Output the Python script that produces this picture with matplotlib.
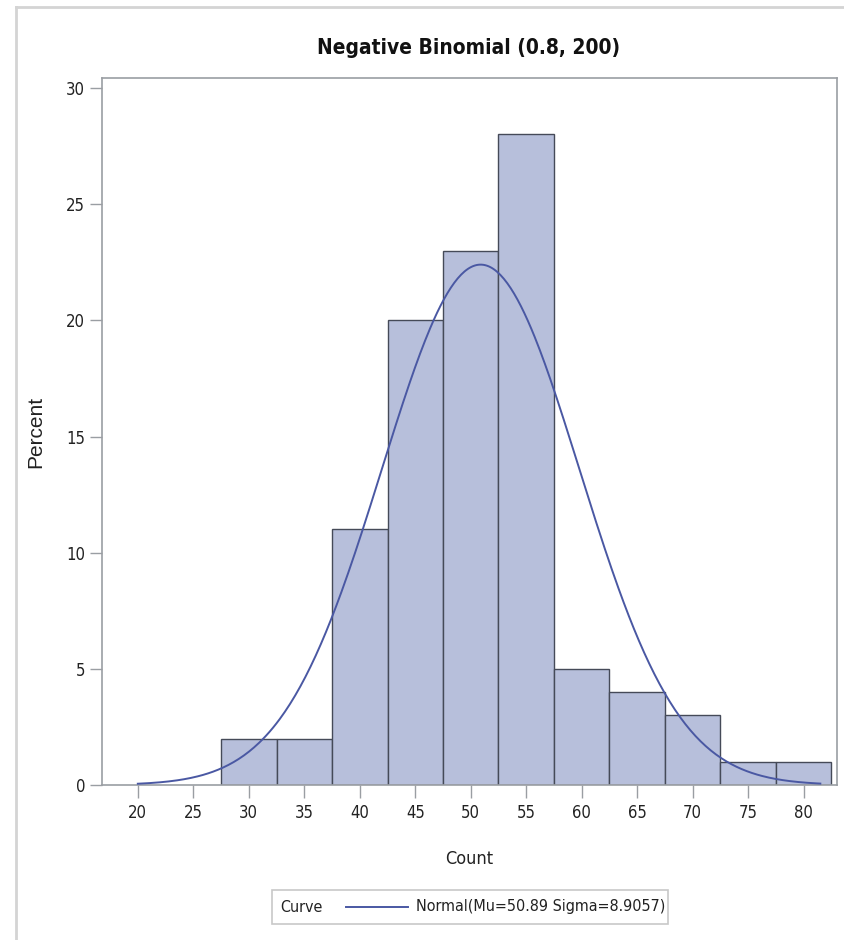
import numpy as np
import matplotlib
matplotlib.use("Agg")
import matplotlib.pyplot as plt
from matplotlib.lines import Line2D
from matplotlib.patches import Rectangle
from matplotlib import font_manager

# histogram bins (midpoints) and percent of observations
bin_mid = [30, 35, 40, 45, 50, 55, 60, 65, 70, 75, 80]
percent = [2, 2, 11, 20, 23, 28, 5, 4, 3, 1, 1]
bin_width = 5

# fitted normal
mu = 50.89
sigma = 8.9057
curve_start, curve_end = 20.0, 81.5

x_ticks = list(range(20, 85, 5))
y_ticks = list(range(0, 35, 5))

# pick a condensed face if one is around
names = {f.name for f in font_manager.fontManager.ttflist}
cond = [f for f in font_manager.fontManager.ttflist if "ondensed" in f.fname or "Narrow" in f.name]
if "Liberation Sans Narrow" in names:
    narrow = dict(family="Liberation Sans Narrow")
elif cond:
    narrow = dict(family="DejaVu Sans", stretch="condensed")
else:
    narrow = dict(family="Liberation Sans")
regular = dict(family="Liberation Sans")

fill_col = "#B7BFDB"
edge_col = "#454A58"
curve_col = "#4A58A3"
frame_col = "#9A9EA3"
text_col = "#222222"

fig = plt.figure(figsize=(8.45, 9.4), dpi=100)
ax = fig.add_axes([0.1204, 0.1649, 0.8701, 0.7521])

ax.bar(bin_mid, percent, width=bin_width, color=fill_col,
       edgecolor=edge_col, linewidth=1.0, zorder=2)

xs = np.linspace(curve_start, curve_end, 400)
ys = 100 * bin_width * np.exp(-0.5 * ((xs - mu) / sigma) ** 2) / (sigma * np.sqrt(2 * np.pi))
ax.plot(xs, ys, color=curve_col, linewidth=1.4, zorder=3)

ax.set_xlim(16.75, 83.0)
ax.set_ylim(0, 30.43)
ax.set_xticks(x_ticks)
ax.set_yticks(y_ticks)
ax.set_xticklabels([str(v) for v in x_ticks], fontsize=12, **narrow)
ax.set_yticklabels([str(v) for v in y_ticks], fontsize=12, **narrow)
ax.tick_params(axis="both", direction="out", length=9, width=1.0,
               color=frame_col, labelcolor=text_col, pad=5)
ax.tick_params(axis="y", pad=3)
for sp in ax.spines.values():
    sp.set_color(frame_col)
    sp.set_linewidth(1.2)

ax.set_xlabel("Count", fontsize=13, color=text_col, labelpad=20, **narrow)
ax.set_ylabel("Percent", fontsize=15, color=text_col, **regular)
ax.yaxis.set_label_coords(-0.077, 0.5)

fig.text(0.555, 0.949, "Negative Binomial (0.8, 200)", ha="center", va="center",
         fontsize=15, fontweight="bold", color="#111111", **narrow)

# outer border lines
fig.add_artist(Line2D([16 / 845, 1], [1 - 7 / 940, 1 - 7 / 940],
                      color="#D4D4D4", linewidth=2.0))
fig.add_artist(Line2D([16 / 845, 16 / 845], [0, 1 - 7 / 940],
                      color="#D4D4D4", linewidth=2.0))

# legend box
lx0, lx1 = 272 / 845, 668 / 845
ly0, ly1 = 1 - 924 / 940, 1 - 890 / 940
fig.add_artist(Rectangle((lx0, ly0), lx1 - lx0, ly1 - ly0, transform=fig.transFigure,
                         facecolor="white", edgecolor="#C8C8C8", linewidth=1.2))
ly = (ly0 + ly1) / 2
fig.text(280 / 845, ly, "Curve", ha="left", va="center",
         fontsize=11.5, color=text_col, **narrow)
fig.add_artist(Line2D([346 / 845, 408 / 845], [ly, ly], color=curve_col, linewidth=1.4))
fig.text(416 / 845, ly, f"Normal(Mu={mu:.2f} Sigma={sigma:.4f})", ha="left",
         va="center", fontsize=11.5, color=text_col, **narrow)

fig.savefig("out.png", dpi=100, facecolor="white")
